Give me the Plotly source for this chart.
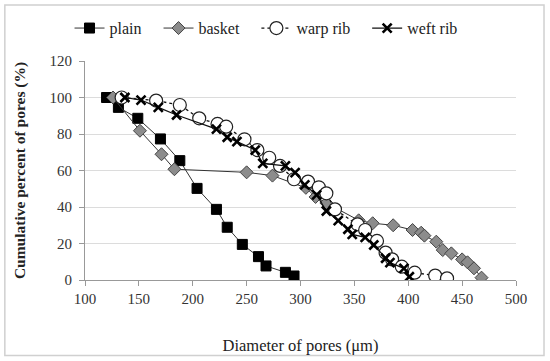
import plotly.graph_objects as go

plain_x = [120, 131, 149, 170, 188, 204, 222, 232, 246, 261, 268, 286, 294]
plain_y = [100, 94.6, 88.6, 77.3, 65.4, 50.2, 38.7, 28.9, 19.5, 12.8, 7.7, 4.2, 2.2]

basket_x = [126, 151, 171, 183, 250, 274, 305, 314, 324, 354, 367, 386, 404, 412, 415, 426, 432, 440, 450, 455, 461, 468]
basket_y = [100, 81.8, 68.9, 60.7, 59.0, 57.2, 50.5, 45.5, 42.2, 32.7, 31.1, 30.0, 27.4, 25.9, 24.3, 21.0, 16.4, 14.6, 11.3, 9.7, 6.4, 1.3]

warp_x = [134, 166, 188, 206, 223, 231, 248, 260, 271, 281, 294, 307, 317, 324, 332, 353, 360, 371, 379, 385, 394, 406, 425, 436]
warp_y = [100, 98.3, 95.9, 88.6, 85.5, 84.0, 77.1, 71.2, 67.0, 62.5, 55.2, 53.9, 50.8, 47.5, 38.7, 30.5, 27.4, 21.4, 15.0, 11.3, 7.3, 4.0, 2.4, 0.9]

weft_x = [137, 152, 168, 185, 222, 232, 241, 258, 265, 286, 295, 304, 315, 324, 335, 344, 348, 360, 368, 379, 383, 396, 401]
weft_y = [100, 98.6, 94.6, 90.4, 82.7, 78.2, 75.8, 71.2, 63.9, 62.5, 58.8, 52.1, 46.6, 37.8, 32.5, 27.8, 25.0, 23.4, 19.2, 11.9, 9.5, 6.4, 1.8]

series_names = ["plain", "basket", "warp rib", "weft rib"]

x_ticks = [100, 150, 200, 250, 300, 350, 400, 450, 500]
y_ticks = [0, 20, 40, 60, 80, 100, 120]

FONT = "'Liberation Serif', 'Times New Roman', serif"
PAD = "\u00a0\u00a0\u00a0"

fig = go.Figure()
fig.add_trace(go.Scatter(x=plain_x, y=plain_y, name=series_names[0] + PAD, mode="lines+markers",
                         line=dict(color="#333333", width=1),
                         marker=dict(symbol="square", size=10, color="black",
                                     line=dict(color="black", width=1))))
fig.add_trace(go.Scatter(x=basket_x, y=basket_y, name=series_names[1] + PAD, mode="lines+markers",
                         line=dict(color="#333333", width=1),
                         marker=dict(symbol="diamond", size=10, color="#8c8c8c",
                                     line=dict(color="#444444", width=1))))
fig.add_trace(go.Scatter(x=warp_x, y=warp_y, name=series_names[2] + PAD, mode="lines+markers",
                         line=dict(color="#111111", width=1.3, dash="dot"),
                         marker=dict(symbol="circle", size=13, color="white",
                                     line=dict(color="#222222", width=1.2))))
fig.add_trace(go.Scatter(x=weft_x, y=weft_y, name=series_names[3], mode="lines+markers",
                         line=dict(color="#111111", width=1.2),
                         marker=dict(symbol="x-thin", size=9, color="black",
                                     line=dict(color="black", width=2.6))))

fig.update_layout(
    width=550, height=361,
    margin=dict(l=85, r=34, t=61, b=81, autoexpand=False),
    paper_bgcolor="white", plot_bgcolor="white",
    font=dict(family=FONT, size=15, color="#222222"),
    showlegend=True,
    legend=dict(orientation="h", x=0.42, xanchor="center", y=1.15, yanchor="middle",
                font=dict(family=FONT, size=16, color="#222222"),
                bgcolor="rgba(0,0,0,0)", tracegroupgap=0),
    xaxis=dict(range=[100, 500], tickvals=x_ticks, ticktext=[str(v) for v in x_ticks],
               automargin=False,
               showgrid=False, zeroline=False, showline=True, linecolor="#999999",
               ticks="outside", ticklen=5, tickcolor="#999999",
               tickfont=dict(family=FONT, size=15, color="#333333"),
               title=dict(text="Diameter of pores (μm)", standoff=33,
                          font=dict(family=FONT, size=16.5, color="#222222"))),
    yaxis=dict(range=[0, 120], tickvals=y_ticks, ticktext=[str(v) for v in y_ticks],
               automargin=False, ticklabelstandoff=4,
               showgrid=True, gridcolor="#dcdcdc", gridwidth=1, zeroline=False,
               showline=True, linecolor="#999999",
               ticks="outside", ticklen=5, tickcolor="#999999",
               tickfont=dict(family=FONT, size=15, color="#333333"),
               title=dict(text="<b>Cumulative percent of pores (%)</b>", standoff=20,
                          font=dict(family=FONT, size=15.5, color="#222222"))),
    shapes=[dict(type="rect", xref="paper", yref="paper",
                 x0=-0.186, x1=1.065, y0=-0.345, y1=1.256,
                 line=dict(color="#d0d0d0", width=1.5), fillcolor="rgba(0,0,0,0)", layer="below")],
)

fig.write_html("out.html", config={"displayModeBar": False},
               post_script="document.body.style.margin='0';")
